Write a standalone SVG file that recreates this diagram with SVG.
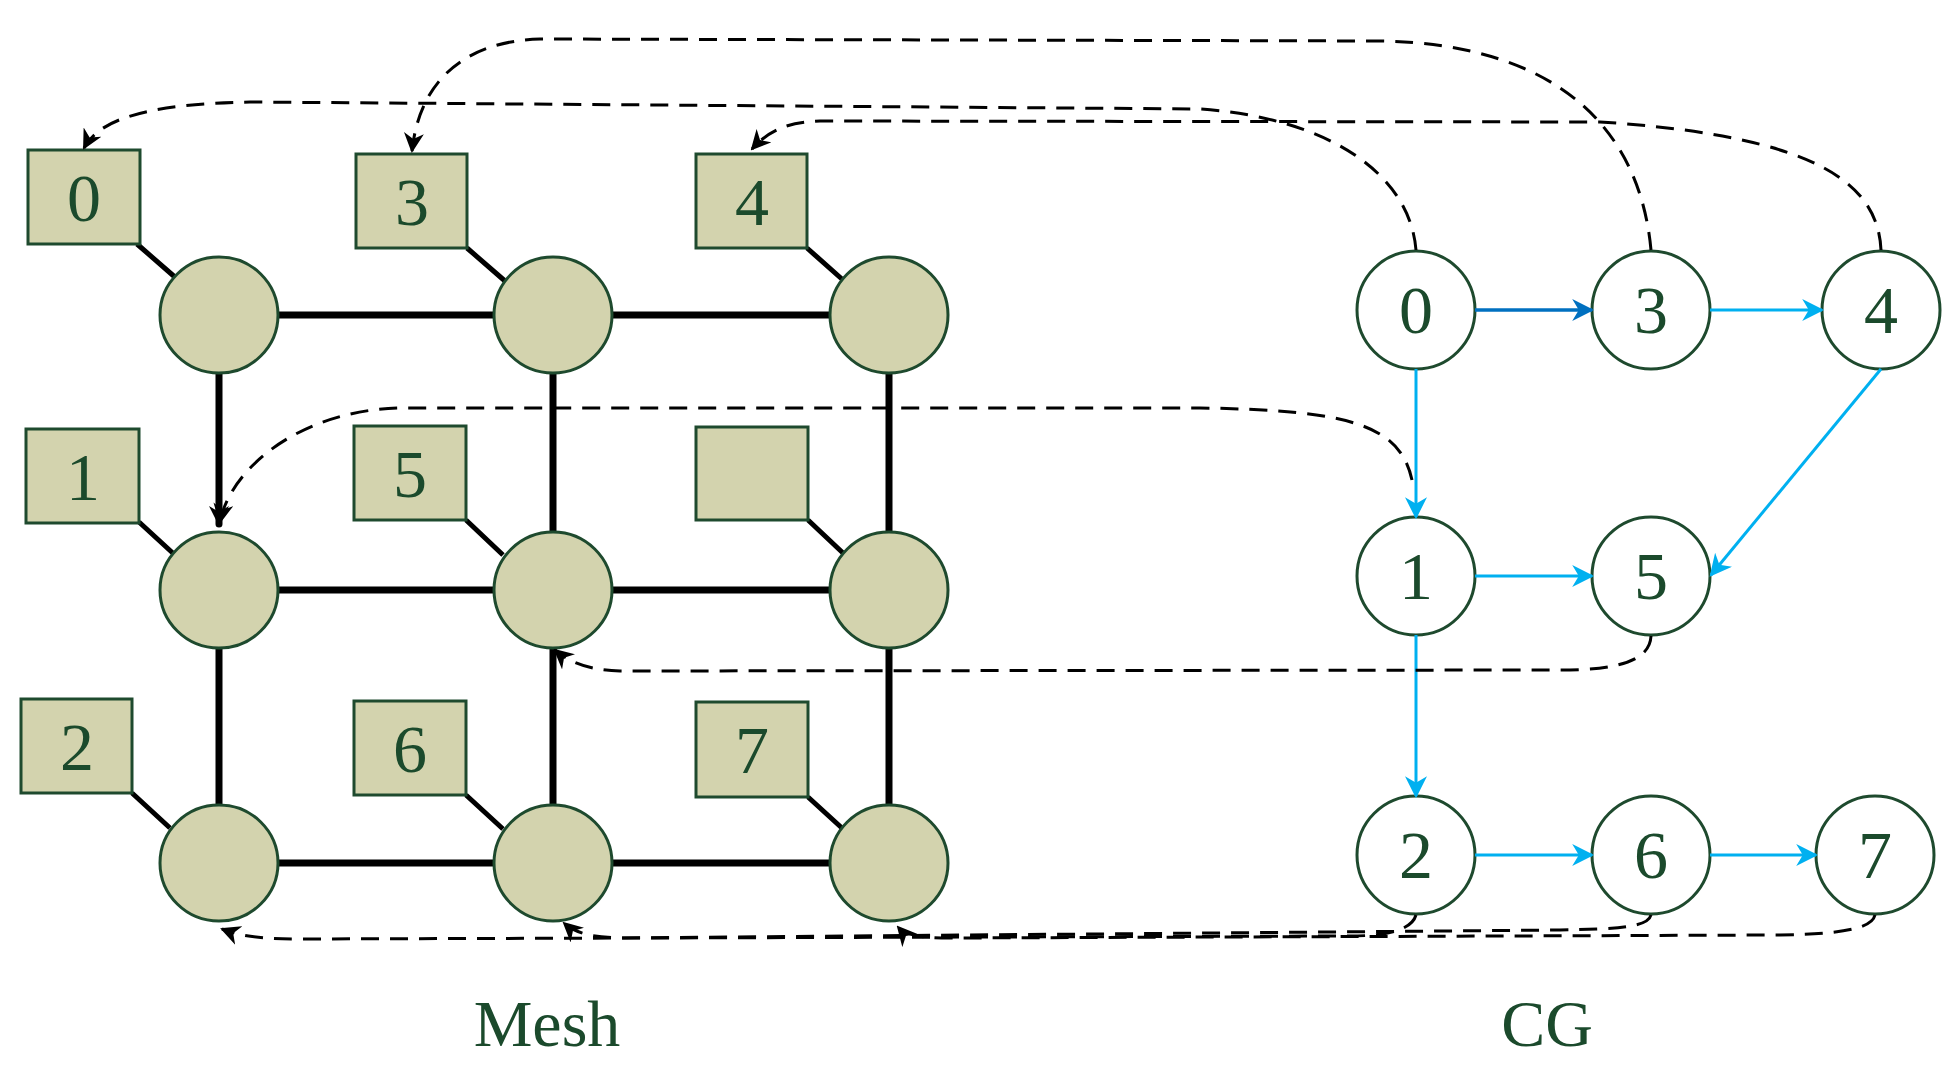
<svg xmlns="http://www.w3.org/2000/svg" width="1950" height="1069" viewBox="0 0 1950 1069">
<style>
.b{fill:#d3d3ae;stroke:#1e4a2e;stroke-width:3}
.m{fill:#d3d3ae;stroke:#1e4a2e;stroke-width:3}
.c{fill:#fff;stroke:#1e4a2e;stroke-width:3}
.t{font-family:"Liberation Serif",serif;font-size:68px;fill:#1b4a2c;text-anchor:middle}
.k{stroke:#000;stroke-width:7;stroke-linecap:round;fill:none}
.l{stroke:#000;stroke-width:5;fill:none}
.d{stroke:#000;stroke-width:3;fill:none;stroke-dasharray:18 11}
.u{stroke:#00b0f0;stroke-width:3;fill:none}
</style>
<defs>
<marker id="ak" viewBox="0 0 10 10" refX="9" refY="5" markerWidth="20" markerHeight="20" orient="auto" markerUnits="userSpaceOnUse"><path d="M0,0L10,5L0,10L3,5z" fill="#000"/></marker>
<marker id="au" viewBox="0 0 10 10" refX="9" refY="5" markerWidth="22" markerHeight="22" orient="auto" markerUnits="userSpaceOnUse"><path d="M0,0L10,5L0,10L3,5z" fill="#00b0f0"/></marker>
<marker id="ad" viewBox="0 0 10 10" refX="9" refY="5" markerWidth="22" markerHeight="22" orient="auto" markerUnits="userSpaceOnUse"><path d="M0,0L10,5L0,10L3,5z" fill="#0070c0"/></marker>
</defs>
<g id="mesh-links">
<path class="k" d="M275,315H497M611,315H831M275,590H497M611,590H831M275,863H497M611,863H831"/>
<path class="k" d="M553,373V532M889,373V532M219,648V804M553,648V804M889,648V804"/>
<path class="k" d="M219,373V524" marker-end="url(#ak)"/>
<path class="l" d="M137,244L176,278M467,248L505,281M807,248L843,280M139,522L176,556M466,520L503,555M808,520L843,553M132,793L170,828M466,795L503,829M808,797L843,829"/>
</g>
<g id="m-0"><ellipse class="m" cx="219" cy="315" rx="59" ry="58"/></g>
<g id="m-3"><ellipse class="m" cx="553" cy="315" rx="59" ry="58"/></g>
<g id="m-4"><ellipse class="m" cx="889" cy="315" rx="59" ry="58"/></g>
<g id="m-1"><ellipse class="m" cx="219" cy="590" rx="59" ry="58"/></g>
<g id="m-5"><ellipse class="m" cx="553" cy="590" rx="59" ry="58"/></g>
<g id="m-e"><ellipse class="m" cx="889" cy="590" rx="59" ry="58"/></g>
<g id="m-2"><ellipse class="m" cx="219" cy="863" rx="59" ry="58"/></g>
<g id="m-6"><ellipse class="m" cx="553" cy="863" rx="59" ry="58"/></g>
<g id="m-7"><ellipse class="m" cx="889" cy="863" rx="59" ry="58"/></g>
<g id="b0"><rect class="b" x="28" y="150" width="112" height="94"/><text class="t" x="84" y="221">0</text></g>
<g id="b3"><rect class="b" x="356" y="154" width="111" height="94"/><text class="t" x="412" y="225">3</text></g>
<g id="b4"><rect class="b" x="696" y="154" width="111" height="94"/><text class="t" x="752" y="225">4</text></g>
<g id="b1"><rect class="b" x="26" y="429" width="113" height="94"/><text class="t" x="83" y="500">1</text></g>
<g id="b5"><rect class="b" x="354" y="426" width="112" height="94"/><text class="t" x="410" y="497">5</text></g>
<g id="be"><rect class="b" x="696" y="427" width="112" height="93"/></g>
<g id="b2"><rect class="b" x="21" y="699" width="111" height="94"/><text class="t" x="77" y="770">2</text></g>
<g id="b6"><rect class="b" x="354" y="701" width="112" height="94"/><text class="t" x="410" y="772">6</text></g>
<g id="b7"><rect class="b" x="696" y="702" width="112" height="95"/><text class="t" x="752" y="773">7</text></g>
<g id="c0"><ellipse class="c" cx="1416" cy="310" rx="59" ry="59"/><text class="t" x="1416" y="333">0</text></g>
<g id="c3"><ellipse class="c" cx="1651" cy="310" rx="59" ry="59"/><text class="t" x="1651" y="333">3</text></g>
<g id="c4"><ellipse class="c" cx="1881" cy="310" rx="59" ry="59"/><text class="t" x="1881" y="333">4</text></g>
<g id="c1"><ellipse class="c" cx="1416" cy="576" rx="59" ry="59"/><text class="t" x="1416" y="599">1</text></g>
<g id="c5"><ellipse class="c" cx="1651" cy="576" rx="59" ry="59"/><text class="t" x="1651" y="599">5</text></g>
<g id="c2"><ellipse class="c" cx="1416" cy="855" rx="59" ry="59"/><text class="t" x="1416" y="878">2</text></g>
<g id="c6"><ellipse class="c" cx="1651" cy="855" rx="59" ry="59"/><text class="t" x="1651" y="878">6</text></g>
<g id="c7"><ellipse class="c" cx="1875" cy="855" rx="59" ry="59"/><text class="t" x="1875" y="878">7</text></g>
<g id="connectors">
<path d="M1475,310H1592" stroke="#0070c0" stroke-width="3.5" fill="none" marker-end="url(#ad)"/>
<path class="u" d="M1710,310H1822" marker-end="url(#au)"/>
<path class="u" d="M1416,369V517" marker-end="url(#au)"/>
<path class="u" d="M1881,369L1711,575" marker-end="url(#au)"/>
<path class="u" d="M1475,576H1592" marker-end="url(#au)"/>
<path class="u" d="M1416,635V796" marker-end="url(#au)"/>
<path class="u" d="M1475,855H1592" marker-end="url(#au)"/>
<path class="u" d="M1710,855H1816" marker-end="url(#au)"/>
<path class="d" d="M1416,250C1410,175 1330,118 1200,109L250,102C150,104 100,118 84,148" marker-end="url(#ak)"/>
<path class="d" d="M1651,250C1640,131 1560,44 1380,41L540,39C470,41 420,76 412,151" marker-end="url(#ak)"/>
<path class="d" d="M1881,250C1878,185 1820,136 1600,122L820,121C790,122 770,129 752,149" marker-end="url(#ak)"/>
<path class="d" d="M1412,480C1400,425 1350,410 1200,408L400,408C300,410 230,469 220,522" marker-end="url(#ak)"/>
<path class="d" d="M1651,636C1650,660 1620,670 1560,670L620,671C590,670 570,663 555,650" marker-end="url(#ak)"/>
<path class="d" d="M1416,915C1412,929 1390,936 1350,936L300,939C260,939 240,936 222,929" marker-end="url(#ak)"/>
<path class="d" d="M1651,915C1648,927 1620,929 1560,930L620,938C590,937 575,933 564,923" marker-end="url(#ak)"/>
<path class="d" d="M1875,915C1872,929 1840,934 1780,935L950,938C920,938 905,935 898,927" marker-end="url(#ak)"/>
</g>
<text class="t" x="547" y="1046" style="font-size:66px">Mesh</text>
<text class="t" x="1547" y="1046" style="font-size:66px">CG</text>
</svg>
